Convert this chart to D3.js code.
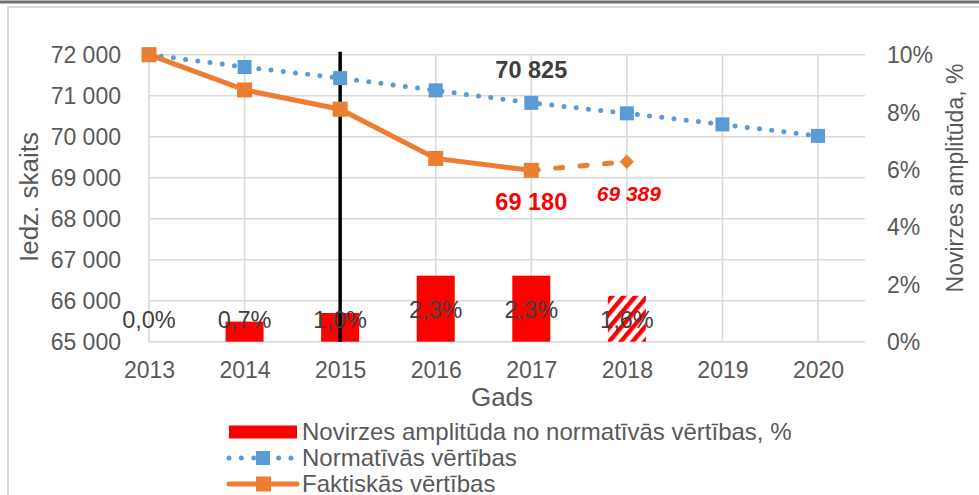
<!DOCTYPE html>
<html>
<head>
<meta charset="utf-8">
<script src="https://cdn.jsdelivr.net/npm/d3@7"></script>
<style>
  body { margin: 0; background: #fff; }
  svg { font-family: "Liberation Sans", Arial, sans-serif; }
  .tick text { fill: #595959; font-size: 23px; }
  .axis-title { fill: #595959; }
  .legend text { fill: #595959; font-size: 24px; }
</style>
</head>
<body>
<svg class="chart" width="979" height="495"></svg>
<script>
// data
var years = [2013, 2014, 2015, 2016, 2017, 2018, 2019, 2020];
var normVals = [72000, 71700, 71430, 71130, 70825, 70570, 70300, 70020];
var factYears = [2013, 2014, 2015, 2016, 2017];
var factVals = [72000, 71140, 70670, 69470, 69180];
var forecastYears = [2017, 2018];
var forecastVals = [69180, 69389];
var devYears = [2013, 2014, 2015, 2016, 2017, 2018];
var devVals = [0.0, 0.7, 1.0, 2.3, 2.3, 1.6];
var devLabels = ["0,0%", "0,7%", "1,0%", "2,3%", "2,3%", "1,6%"];
var leftTicks = [65000, 66000, 67000, 68000, 69000, 70000, 71000, 72000];
var rightTicks = [0, 2, 4, 6, 8, 10];
var legendItems = ["Novirzes amplitūda no normatīvās vērtības, %", "Normatīvās vērtības", "Faktiskās vērtības"];

var margin = { left: 149, right: 865, top: 54.7, bottom: 341.7 };
var blue = "#5b9bd5", orange = "#ed7d31", red = "#ff0000";

var svg = d3.select(".chart");

// outer frame
svg.append("line").attr("x1", 0).attr("x2", 979).attr("y1", 2).attr("y2", 2)
  .attr("stroke", "#6f6f6f").attr("stroke-width", 3);
svg.append("path").attr("d", "M8,495 V7 H979")
  .attr("fill", "none").attr("stroke", "#d9d9d9").attr("stroke-width", 2);

var x = d3.scaleLinear().domain([2013, 2020]).range([149, 818]);
var y = d3.scaleLinear().domain([65000, 72000]).range([margin.bottom, margin.top]);
var y2 = d3.scaleLinear().domain([0, 10]).range([margin.bottom, margin.top]);

// hatch pattern for the 2018 bar
var defs = svg.append("defs");
var pat = defs.append("pattern").attr("id", "hatch").attr("patternUnits", "userSpaceOnUse")
  .attr("width", 9).attr("height", 9).attr("patternTransform", "rotate(40)");
pat.append("rect").attr("width", 9).attr("height", 9).attr("fill", "#fff");
pat.append("rect").attr("width", 4.5).attr("height", 9).attr("fill", red);

// gridlines
svg.append("g").selectAll("line").data(leftTicks).enter().append("line")
  .attr("x1", margin.left).attr("x2", margin.right)
  .attr("y1", d => y(d)).attr("y2", d => y(d))
  .attr("stroke", "#d9d9d9").attr("stroke-width", 1.5);
svg.append("g").selectAll("line").data(years).enter().append("line")
  .attr("x1", d => x(d)).attr("x2", d => x(d))
  .attr("y1", margin.top).attr("y2", margin.bottom)
  .attr("stroke", "#d9d9d9").attr("stroke-width", 1.5);

// left axis
var yAxis = svg.append("g").attr("transform", "translate(121,0)")
  .call(d3.axisLeft(y).tickValues(leftTicks).tickSize(0).tickFormat(d => d3.format(",")(d).replace(",", " ")));
yAxis.select(".domain").remove();
yAxis.selectAll("text").attr("x", 0).attr("dy", "0.35em");

// right axis
var y2Axis = svg.append("g").attr("transform", "translate(887,0)")
  .call(d3.axisRight(y2).tickValues(rightTicks).tickSize(0).tickFormat(d => d + "%"));
y2Axis.select(".domain").remove();
y2Axis.selectAll("text").attr("x", 0).attr("dy", "0.35em");

// x axis
var xAxis = svg.append("g").attr("transform", "translate(0,370)")
  .call(d3.axisBottom(x).tickValues(years).tickSize(0).tickFormat(d3.format("d")));
xAxis.select(".domain").remove();
xAxis.selectAll("text").attr("y", 0).attr("dy", "0.35em");

// axis titles
svg.append("text").attr("class", "axis-title").attr("text-anchor", "middle")
  .style("font-size", "26px").attr("x", 502).attr("y", 406).text("Gads");
svg.append("text").attr("class", "axis-title").attr("text-anchor", "middle")
  .style("font-size", "26px").attr("transform", "translate(38,197) rotate(-90)").text("Iedz. skaits");
svg.append("text").attr("class", "axis-title").attr("text-anchor", "middle")
  .style("font-size", "23px").attr("transform", "translate(963,178) rotate(-90)").text("Novirzes amplitūda, %");

// bars
svg.append("g").selectAll("rect").data(devYears).enter().append("rect")
  .attr("x", d => x(d) - 19).attr("width", 38)
  .attr("y", (d, i) => y2(devVals[i]))
  .attr("height", (d, i) => margin.bottom - y2(devVals[i]))
  .attr("fill", (d, i) => i == devYears.length - 1 ? "url(#hatch)" : red);

// vertical marker at 2015
svg.append("line").attr("x1", x(2015)).attr("x2", x(2015))
  .attr("y1", margin.top - 3).attr("y2", margin.bottom)
  .attr("stroke", "#000").attr("stroke-width", 3.5);

// bar labels
svg.append("g").selectAll("text").data(devYears).enter().append("text")
  .attr("x", d => x(d)).attr("text-anchor", "middle").attr("dy", "0.35em")
  .attr("y", (d, i) => Math.min(margin.bottom - 22, y2(devVals[i]) + 34))
  .attr("fill", "#404040").style("font-size", "23.5px")
  .text((d, i) => devLabels[i]);

// normative line
var normPts = years.map((d, i) => [x(d), y(normVals[i])]);
svg.append("path").datum(normPts).attr("d", d3.line())
  .attr("fill", "none").attr("stroke", blue).attr("stroke-width", 5)
  .attr("stroke-linecap", "round").attr("stroke-dasharray", "0 12.3");
svg.append("g").selectAll("rect").data(normPts).enter().append("rect")
  .attr("x", d => d[0] - 7).attr("y", d => d[1] - 7)
  .attr("width", 14).attr("height", 14).attr("fill", blue);

// actual line, dashed part for 2018
var factPts = factYears.map((d, i) => [x(d), y(factVals[i])]);
var fcPts = forecastYears.map((d, i) => [x(d), y(forecastVals[i])]);
svg.append("path").datum(fcPts).attr("d", d3.line())
  .attr("fill", "none").attr("stroke", orange).attr("stroke-width", 5)
  .attr("stroke-linecap", "round").attr("stroke-dasharray", "7 17.5");
svg.append("path").datum(factPts).attr("d", d3.line())
  .attr("fill", "none").attr("stroke", orange).attr("stroke-width", 5);
svg.append("g").selectAll("rect").data(factPts).enter().append("rect")
  .attr("x", d => d[0] - 7.5).attr("y", d => d[1] - 7.5)
  .attr("width", 15).attr("height", 15).attr("fill", orange);
svg.append("path")
  .attr("d", d3.symbol().type(d3.symbolDiamond2).size(130))
  .attr("transform", "translate(" + fcPts[1][0] + "," + fcPts[1][1] + ")")
  .attr("fill", orange);

// value annotations
svg.append("text").attr("x", x(2017)).attr("y", 77.5).attr("text-anchor", "middle")
  .attr("fill", "#404040").style("font-size", "23.5px").style("font-weight", "bold").text("70 825");
svg.append("text").attr("x", x(2017)).attr("y", 210).attr("text-anchor", "middle")
  .attr("fill", red).style("font-size", "23.5px").style("font-weight", "bold").text("69 180");
svg.append("text").attr("x", x(2018) + 2).attr("y", 200.5).attr("text-anchor", "middle")
  .attr("fill", red).style("font-size", "21px").style("font-weight", "bold").style("font-style", "italic").text("69 389");

// legend
var lg = svg.append("g").attr("class", "legend");
var rowY = [432, 458, 484];
lg.append("rect").attr("x", 229).attr("y", rowY[0] - 6.5).attr("width", 68).attr("height", 13).attr("fill", red);
lg.append("line").attr("x1", 229).attr("x2", 291).attr("y1", rowY[1]).attr("y2", rowY[1])
  .attr("stroke", blue).attr("stroke-width", 5).attr("stroke-linecap", "round").attr("stroke-dasharray", "0 12.4");
lg.append("rect").attr("x", 256).attr("y", rowY[1] - 7).attr("width", 14).attr("height", 14).attr("fill", blue);
lg.append("line").attr("x1", 229).attr("x2", 297).attr("y1", rowY[2]).attr("y2", rowY[2])
  .attr("stroke", orange).attr("stroke-width", 5).attr("stroke-linecap", "round");
lg.append("rect").attr("x", 256).attr("y", rowY[2] - 7.5).attr("width", 15).attr("height", 15).attr("fill", orange);
lg.selectAll("text").data(legendItems).enter().append("text")
  .attr("x", 302).attr("y", (d, i) => rowY[i]).attr("dy", "0.35em").text(d => d);
</script>
</body>
</html>
